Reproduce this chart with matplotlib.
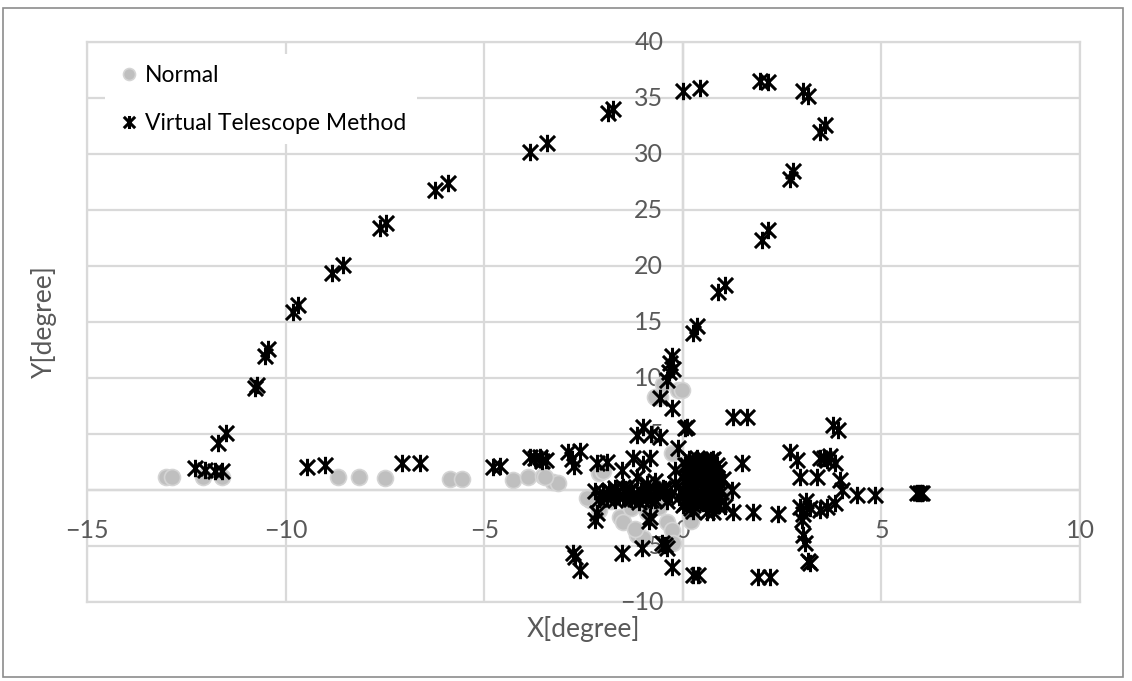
import matplotlib
matplotlib.use("Agg")
import matplotlib.pyplot as plt
from matplotlib.path import Path
from matplotlib.patches import Rectangle

plt.rcParams['font.family'] = ['Lato', 'DejaVu Sans']

# Normal (grey dots)
normal_x = [-13.0, -12.87, -12.09, -11.59, -8.69, -8.14, -7.51, -5.87, -5.57,
            -4.28, -3.9, -3.53, -3.27, -3.15, -3.48,
            -2.34, -2.4, -2.1, -1.59, -1.5, -1.16, -1.0, -0.4, -0.28, -0.25,
            -0.58, -0.7, -0.13, -0.03, -0.5, -2.1, -2.0, -0.75, 1.06, -0.28,
            -1.8, -1.3, -0.9, -0.6, -1.2, 0.2]
normal_y = [1.16, 1.2, 1.16, 1.16, 1.16, 1.16, 1.07, 0.98, 0.98,
            0.89, 1.16, 1.25, 0.71, 0.62, 1.16,
            -0.9, -0.7, -1.8, -2.4, -2.9, -4.0, -4.3, -2.9, -3.6, -4.7,
            8.3, 8.3, 8.9, 8.9, 9.5, 1.5, 1.7, -1.3, -0.27, 3.3,
            -1.0, -1.6, -2.0, -1.5, -3.5, -2.8]

# Virtual Telescope Method (stars)
vtm_x = [-12.29, -12.04, -11.79, -11.59, -11.71, -11.49, -10.78, -10.71,
         -10.53, -10.45, -9.82, -9.70, -8.82, -8.56, -7.63, -7.46,
         -6.25, -5.92, -3.85, -3.43, -1.89, -1.76, 0.0, 0.43,
         1.94, 2.14, 3.02, 3.15, 3.45, 3.58, 2.70, 2.77,
         1.99, 2.14, 0.88, 1.06, 0.25, 0.35,
         -0.33, -0.28, -0.35, -0.25, -0.4,
         -9.47, -9.02, -7.08, -6.62, -4.79, -4.6,
         -3.85, -3.72, -3.6, -3.45, -3.55,
         -2.9, -2.6, -2.75, -2.8, -2.17, -1.91, -1.26, -0.83, -1.0,
         -1.16, -1.54,
         -0.58, -0.28, 0.05, 0.1, 1.26, 1.61,
         -1.16, -1.0, -0.58, -0.13, -0.8,
         -2.17, -2.2, -0.83, -0.85,
         -2.77, -2.72, -2.6, -1.54, -1.03, -0.53, -0.4, -0.45, -0.28,
         0.25, 0.38, 1.9, 2.2,
         1.23, 1.49,
         0.25, 0.6, 0.76, 1.26, 1.76, 2.39,
         3.78, 3.9, 2.7, 2.87, 2.95, 3.38, 3.45, 3.63, 3.83, 3.55, 3.7,
         3.95, 4.0, 4.38, 4.84, 5.9, 5.97, 6.02,
         2.95, 3.02, 3.0, 3.2, 3.63, 3.83, 3.45, 3.1, 3.02, 3.07, 3.2, 3.15,
         -1.8, -1.6, -1.4, -1.2, -1.0, -0.8, -0.6, -1.5, -1.7, -1.3, -1.1, -0.9,
         -0.5, -0.3, -0.2, 0.0, 0.1, 0.2, 0.3, 0.4, 0.5, 0.6, 0.7, 0.8,
         0.9, 0.8, 0.6, 0.4, 0.2, 0.1, 0.3, 0.5, 0.0, 0.1, 0.3, 0.7,
         0.9, -0.1, 0.5, 0.9, 0.0, -0.4, -0.7, -0.2, 0.2, 0.6, 0.95, 1.0,
         # dense core
         -2.2, -2.0, -1.85, -1.65, -1.45, -1.25, -1.05, -0.85, -0.65, -0.45,
         -2.1, -1.9, -1.7, -1.5, -1.3, -1.1, -0.9, -0.7,
         0.05, 0.25, 0.45, 0.65, 0.85, 0.15, 0.35, 0.55, 0.75,
         0.05, 0.25, 0.45, 0.65, 0.85, 0.15, 0.35, 0.55, 0.75,
         0.05, 0.25, 0.45, 0.65, 0.85, 0.15, 0.35, 0.55, 0.75,
         0.05, 0.25, 0.45, 0.65, 0.85, 1.05, 0.15, 0.35, 0.55, 0.75]
vtm_y = [1.96, 1.79, 1.70, 1.70, 4.2, 5.1, 9.1, 9.4,
         12.0, 12.6, 15.9, 16.5, 19.4, 20.1, 23.4, 23.8,
         26.8, 27.4, 30.2, 31.0, 33.7, 34.0, 35.6, 35.9,
         36.5, 36.4, 35.6, 35.2, 32.0, 32.6, 27.8, 28.5,
         22.3, 23.2, 17.7, 18.3, 14.0, 14.6,
         11.3, 12.0, 10.5, 10.8, 9.8,
         2.05, 2.23, 2.41, 2.41, 2.05, 2.1,
         2.95, 2.9, 2.95, 2.7, 2.6,
         3.4, 3.5, 2.1, 2.8, 2.4, 2.5, 2.86, 2.86, 2.3,
         1.16, 1.79,
         8.2, 7.3, 5.5, 5.6, 6.5, 6.5,
         4.9, 5.6, 4.7, 3.75, 5.0,
         -2.05, -2.7, -2.4, -2.8,
         -5.6, -6.0, -7.1, -5.6, -5.2, -4.7, -5.2, -4.9, -6.9,
         -7.6, -7.6, -7.8, -7.8,
         0.0, 2.4,
         -1.9, -2.0, -2.0, -2.0, -2.0, -2.1,
         5.8, 5.4, 3.4, 2.7, 1.2, 1.2, 2.86, 2.7, 2.4, 2.9, 3.0,
         0.9, 0.0, -0.45, -0.45, -0.27, -0.3, -0.27,
         -1.5, -2.1, -2.7, -1.6, -1.5, -1.2, -1.8, -1.0, -4.0, -4.7, -6.5, -6.3,
         -0.2, -0.5, -0.3, -0.8, -0.4, -0.9, -0.2, 0.3, 0.2, 0.1, -1.1, 0.5,
         0.2, -0.4, 0.6, 0.0, 0.5, 1.0, 1.5, 2.0, 2.5, 2.0, 1.4, 0.7,
         0.2, -0.3, -0.6, -0.8, -0.4, -1.0, 0.3, 0.8, 1.2, 2.2, 2.6, 2.7,
         1.9, -0.6, -1.2, -1.3, -1.3, -1.0, 0.8, 1.8, -1.6, 0.0, -0.2, 1.0,
         # dense core
         -0.1, -0.3, 0.0, -0.2, 0.1, -0.4, -0.1, 0.0, -0.3, 0.1,
         -0.8, -0.7, -0.9, -0.6, -0.8, -0.5, -0.7, -0.9,
         2.2, 2.3, 2.1, 2.4, 2.2, 1.6, 1.7, 1.8, 1.6,
         1.0, 1.1, 1.2, 1.0, 1.1, 0.4, 0.5, 0.4, 0.6,
         -0.1, 0.0, -0.2, -0.1, 0.1, -0.6, -0.7, -0.5, -0.8,
         -1.2, -1.3, -1.1, -1.2, -1.3, -1.4, 2.8, 2.9, 2.7, 2.8]

x_ticks = [-15, -10, -5, 0, 5, 10]
y_ticks = [-10, -5, 0, 5, 10, 15, 20, 25, 30, 35, 40]

# Excel style star marker: X plus a vertical bar
star = Path([(-1, -1), (1, 1), (-1, 1), (1, -1), (0, -1.15), (0, 1.15)],
            [Path.MOVETO, Path.LINETO] * 3)

grid_c = '#d9d9d9'
axis_c = '#bfbfbf'
text_c = '#595959'

fig = plt.figure(figsize=(11.32, 6.81), dpi=100)
ax = fig.add_axes([87 / 1132, 79 / 681, 993 / 1132, 560 / 681])

ax.set_xlim(-15, 10)
ax.set_ylim(-10, 40)
ax.set_xticks(x_ticks)
ax.set_yticks(y_ticks)
ax.grid(True, color=grid_c, linewidth=1.6, zorder=0)
ax.tick_params(length=0, labelbottom=False, labelleft=False)
for s in ax.spines.values():
    s.set_color(grid_c)
    s.set_linewidth(1.6)
    s.set_zorder(0.5)
ax.axhline(0, color=axis_c, linewidth=1.6, zorder=1)
ax.axvline(0, color=axis_c, linewidth=1.6, zorder=1)

# tick labels next to the axes (Excel style)
for t in x_ticks:
    ax.annotate(str(t).replace('-', '\u2212'), (t, 0), xytext=(0, -21),
                textcoords='offset points', ha='center', va='top',
                fontsize=18, color=text_c, zorder=2)
for t in y_ticks:
    ax.annotate(str(t).replace('-', '\u2212'), (0, t), xytext=(-14, 0),
                textcoords='offset points', ha='right', va='center',
                fontsize=18, color=text_c, zorder=2, annotation_clip=False)

ax.plot(normal_x, normal_y, linestyle='none', marker='o', markersize=11.5,
        markerfacecolor='#bfbfbf', markeredgecolor='#d4d4d4',
        markeredgewidth=1.2, label='Normal', zorder=3)
ax.plot(vtm_x, vtm_y, linestyle='none', marker=star, markersize=12.5,
        markerfacecolor='none', markeredgecolor='black', markeredgewidth=2.2,
        label='Virtual Telescope Method', zorder=4)

ax.set_xlabel('X[degree]', fontsize=19, color=text_c, labelpad=10)
ax.set_ylabel('Y[degree]', fontsize=19, color=text_c, labelpad=22)

leg = ax.legend(loc='upper left', bbox_to_anchor=(0.018, 0.978),
                borderaxespad=0, frameon=True, fontsize=16.5,
                handletextpad=0.1, labelspacing=1.2, borderpad=0.45,
                handlelength=1.2, markerscale=0.75)
leg.get_frame().set_facecolor('white')
leg.get_frame().set_edgecolor('none')
leg.get_frame().set_alpha(1)
leg.set_zorder(5)

fig.patches.append(Rectangle((3 / 1132, 4 / 681), 1120 / 1132, 669 / 681,
                             transform=fig.transFigure, fill=False,
                             edgecolor='#8c8c8c', linewidth=1.2))

fig.savefig('out.png', dpi=100)
